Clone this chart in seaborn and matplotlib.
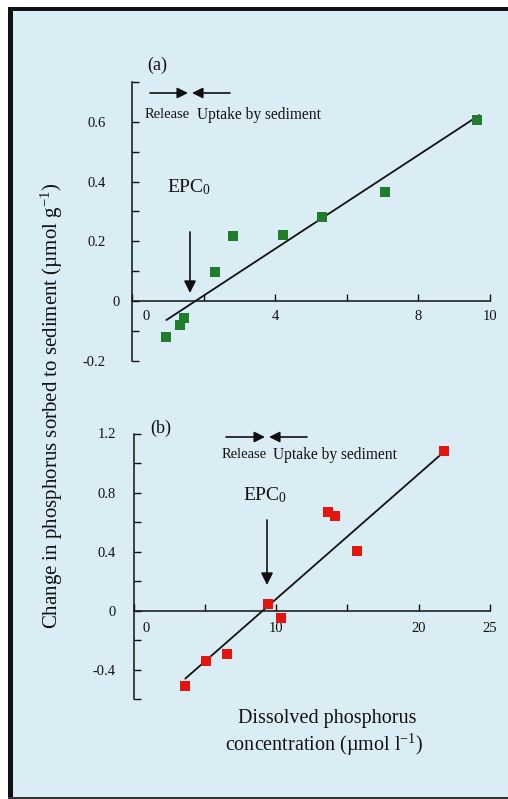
import numpy as np
import pandas as pd
import matplotlib
matplotlib.use("Agg")
import matplotlib.pyplot as plt
import matplotlib.transforms as mtransforms
from matplotlib.patches import Rectangle, FancyArrowPatch
import seaborn as sns

# ---------------- data ----------------
# Panel (a)
a_conc = [0.96, 1.34, 1.45, 2.32, 2.83, 4.21, 5.31, 7.08, 9.65]
a_sorbed = [-0.12, -0.079, -0.057, 0.097, 0.217, 0.223, 0.282, 0.366, 0.606]
a_fit_conc = [0.96, 9.70]
a_fit_sorbed = [-0.063, 0.622]
a_yticks = [-0.2, 0, 0.2, 0.4, 0.6]
a_ytick_labels = ["-0.2", "0", "0.2", "0.4", "0.6"]
a_yminor = [-0.1, 0.1, 0.3, 0.5, 0.733]
a_xticks = [0, 4, 8, 10]
a_xtick_labels = ["0", "4", "8", "10"]
a_xminor = [2, 6]

# Panel (b)
b_conc = [3.62, 5.07, 6.57, 9.44, 10.33, 13.6, 14.11, 15.68, 21.78]
b_sorbed = [-0.508, -0.341, -0.294, 0.047, -0.047, 0.666, 0.641, 0.404, 1.081]
b_fit_conc = [3.62, 21.7]
b_fit_sorbed = [-0.46, 1.07]
b_yticks = [-0.4, 0, 0.4, 0.8, 1.2]
b_ytick_labels = ["-0.4", "0", "0.4", "0.8", "1.2"]
b_yminor = [-0.6, -0.2, 0.2, 0.6, 1.0]
b_xticks = [0, 10, 20, 25]
b_xtick_labels = ["0", "10", "20", "25"]
b_xminor = [5, 15]

df_a = pd.DataFrame({"conc": a_conc, "sorbed": a_sorbed})
df_b = pd.DataFrame({"conc": b_conc, "sorbed": b_sorbed})
fit_a = pd.DataFrame({"conc": a_fit_conc, "sorbed": a_fit_sorbed})
fit_b = pd.DataFrame({"conc": b_fit_conc, "sorbed": b_fit_sorbed})

# ---------------- style ----------------
sns.set_style("ticks")
plt.rcParams["font.family"] = ["Liberation Serif", "DejaVu Serif"]
plt.rcParams["mathtext.fontset"] = "custom"
plt.rcParams["mathtext.rm"] = "Liberation Serif"
plt.rcParams["mathtext.default"] = "regular"

W, H = 508, 799
BG = "#dbedf4"
GREEN = "#1f7d2c"
RED = "#e2150f"
TXT = "#111111"

fig = plt.figure(figsize=(W / 100, H / 100), dpi=100)
fig.patch.set_facecolor(BG)
fig.patch.set_edgecolor("none")
fig.patch.set_linewidth(0)


def fp(x, y):
    return (x / W, 1 - y / H)


# white outer margin + black frame lines (top, left, bottom); no frame on the right
def band(xa, ya, xb, yb, color):
    # pixel box (xa, ya) top-left to (xb, yb) bottom-right
    fig.add_artist(Rectangle((xa / W, 1 - yb / H), (xb - xa) / W, (yb - ya) / H,
                             transform=fig.transFigure, facecolor=color,
                             edgecolor="none", linewidth=0, zorder=-10))


band(0, 0, W + 10, 7, "white")        # top white margin
band(0, 0, 8, H + 10, "white")        # left white margin
band(8, 7, W + 10, 11, "#111111")     # top black line
band(8, 7, 13, H + 10, "#111111")     # left black line
band(8, 797, W + 10, H + 10, "#333333")  # thin bottom line


def style_axes(ax, xlim, ylim, xt, xtl, xmin, yt, ytl, ymin, ypad, xpad):
    ax.set_facecolor("none")
    ax.set_xlim(*xlim)
    ax.set_ylim(*ylim)
    for s in ["top", "right"]:
        ax.spines[s].set_visible(False)
    ax.spines["bottom"].set_position(("data", 0))
    for s in ["left", "bottom"]:
        ax.spines[s].set_linewidth(1.1)
        ax.spines[s].set_color(TXT)
    ax.set_xticks(xt, xtl)
    ax.set_xticks(xmin, minor=True)
    ax.set_yticks(yt, ytl)
    ax.set_yticks(ymin, minor=True)
    ax.tick_params(axis="both", which="both", direction="in", length=5, width=1,
                   color=TXT, labelsize=10.5, labelcolor=TXT)
    ax.tick_params(axis="y", which="major", pad=ypad)
    ax.tick_params(axis="x", which="major", pad=xpad)
    ax.set_xlabel("")
    ax.set_ylabel("")


# ---------------- panel (a) ----------------
ax_a = fig.add_axes([132 / W, 1 - 361 / H, (490 - 132) / W, (361 - 82) / H])
sns.lineplot(data=fit_a, x="conc", y="sorbed", color=TXT, lw=1.3,
             estimator=None, ax=ax_a)
sns.scatterplot(data=df_a, x="conc", y="sorbed", marker="s", s=48, color=GREEN,
                linewidth=0, ax=ax_a, zorder=3)
style_axes(ax_a, (0, 10), (-0.2, 0.733), a_xticks, a_xtick_labels, a_xminor,
           a_yticks, a_ytick_labels, a_yminor, ypad=19, xpad=6)

# ---------------- panel (b) ----------------
ax_b = fig.add_axes([133.7 / W, 1 - 699.3 / H, (490 - 133.7) / W, (699.3 - 433.5) / H])
sns.lineplot(data=fit_b, x="conc", y="sorbed", color=TXT, lw=1.3,
             estimator=None, ax=ax_b)
sns.scatterplot(data=df_b, x="conc", y="sorbed", marker="s", s=52, color=RED,
                linewidth=0, ax=ax_b, zorder=3)
style_axes(ax_b, (0, 25), (-0.6, 1.2), b_xticks, b_xtick_labels, b_xminor,
           b_yticks, b_ytick_labels, b_yminor, ypad=13, xpad=8)


# shift the "0" labels as in the original
def shift_label(lbl, dx_px, dy_px=0):
    lbl.set_transform(lbl.get_transform() +
                      mtransforms.ScaledTranslation(dx_px / 100, dy_px / 100, fig.dpi_scale_trans))


shift_label(ax_a.get_xticklabels()[0], 14)
shift_label(ax_a.get_yticklabels()[1], 14)
shift_label(ax_b.get_xticklabels()[0], 12)


# ---------------- annotations ----------------
def arrow(xa, ya, xb, yb, ms=16):
    fig.add_artist(FancyArrowPatch(
        fp(xa, ya), fp(xb, yb), transform=fig.transFigure,
        arrowstyle="-|>", mutation_scale=ms, lw=1.2, color=TXT,
        shrinkA=0, shrinkB=0))


# (a)
fig.text(*fp(157, 65), "(a)", fontsize=13, ha="center", va="center", color=TXT)
arrow(150, 93, 188, 93)
arrow(230, 93, 192, 93)
fig.text(*fp(145, 115), "Release", fontsize=10.5, ha="left", va="center", color=TXT)
fig.text(*fp(197, 115), "Uptake by sediment", fontsize=11.2, ha="left", va="center", color=TXT)
fig.text(*fp(167, 192), "EPC$_0$", fontsize=14, ha="left", va="baseline", color=TXT)
arrow(190, 232, 190, 293, ms=18)

# (b)
fig.text(*fp(161, 428), "(b)", fontsize=13, ha="center", va="center", color=TXT)
arrow(226, 437, 265, 437)
arrow(307, 437, 269, 437)
fig.text(*fp(222, 455), "Release", fontsize=10.5, ha="left", va="center", color=TXT)
fig.text(*fp(273, 455), "Uptake by sediment", fontsize=11.2, ha="left", va="center", color=TXT)
fig.text(*fp(243, 500), "EPC$_0$", fontsize=14, ha="left", va="baseline", color=TXT)
arrow(267, 520, 267, 585, ms=18)

# axis labels
fig.text(*fp(52, 406), "Change in phosphorus sorbed to sediment (\u00b5mol g$^{-1}$)",
         rotation=90, fontsize=15, ha="center", va="center", color=TXT)
fig.text(*fp(327, 718), "Dissolved phosphorus", fontsize=14.5, ha="center", va="center", color=TXT)
fig.text(*fp(324, 745), "concentration (\u00b5mol l$^{-1}$)", fontsize=14.5,
         ha="center", va="center", color=TXT)

fig.savefig("out.png", dpi=100, facecolor=BG)
